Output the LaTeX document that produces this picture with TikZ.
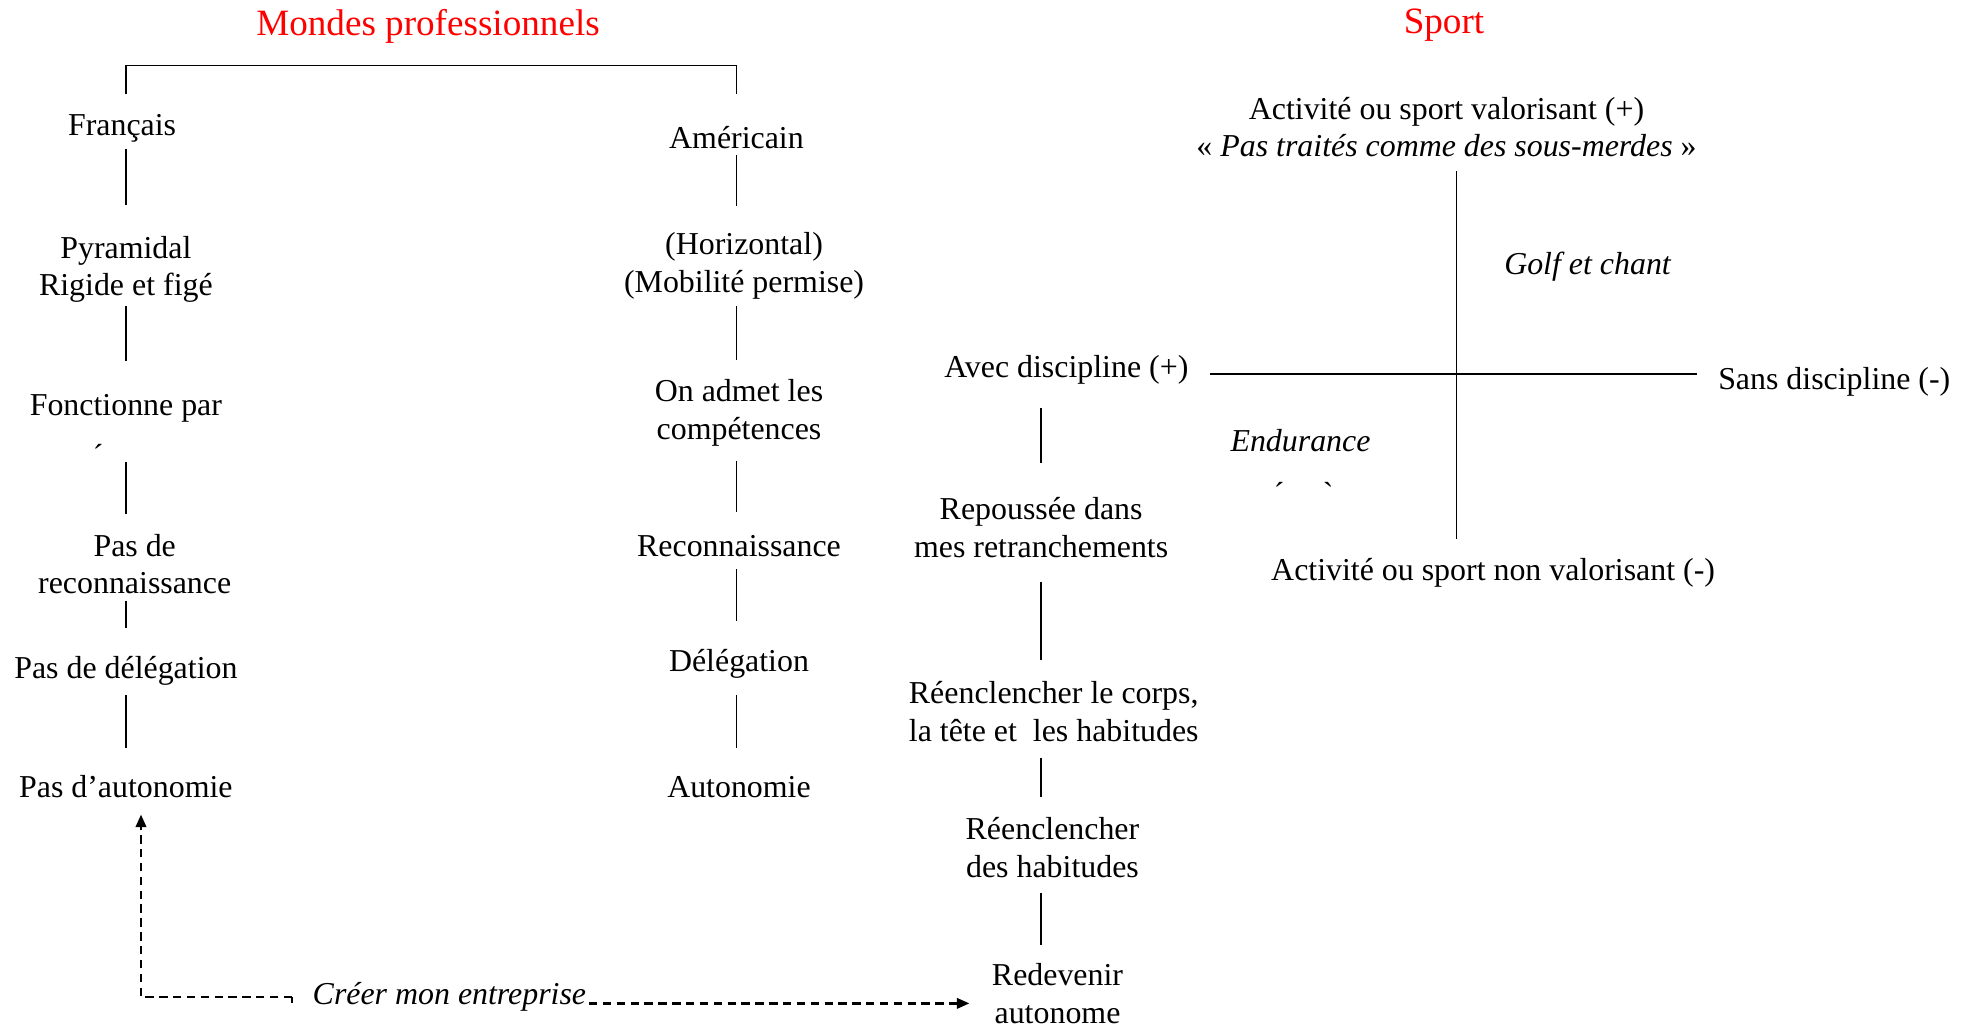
\documentclass[tikz,border=0pt]{standalone}
\usepackage{fontspec}
\setmainfont{Liberation Serif}
\usetikzlibrary{arrows.meta,calc}
\begin{document}
\begin{tikzpicture}[x=0.6pt,y=-0.6pt,
  every node/.style={font=\fontsize{15.2}{18}\selectfont, inner sep=0pt, align=center},
  ttl/.style={font=\fontsize{17.7}{21}\selectfont, text=red},
  it/.style={font=\fontsize{15.2}{18}\selectfont\itshape},
  conn/.style={line width=0.75pt},
  dashar/.style={line width=1.1pt, dash pattern=on 4pt off 2.6pt, -{Triangle[length=6pt,width=5pt]}}]
\useasboundingbox (0,0) rectangle (1568,816);
% titles
\node[ttl] (t1) at (340,21) {Mondes professionnels};
\node[ttl] (t2) at (1147,20) {Sport};
% French column
\node (fr) at (97,102) {Français};
\node (pyr) at (100,214) {Pyramidal\\Rigide et figé};
\node (fon) at (100,324) {Fonctionne par};
\node (ac1) at (78,362) {´};
\node (pdr) at (107,448) {Pas de\\reconnaissance};
\node (pdd) at (100,533) {Pas de délégation};
\node (pda) at (100,625) {Pas d’autonomie};
% American column
\node (am) at (585,109) {Américain};
\node (hor) at (591,211) {(Horizontal)\\(Mobilité permise)};
\node (oad) at (587,328) {On admet les\\compétences};
\node (rec) at (587,434) {Reconnaissance};
\node (del) at (587,527) {Délégation};
\node (aut) at (587,625) {Autonomie};
% middle column
\node (avd) at (847,294) {Avec discipline (+)};
\node (rep) at (827,419) {Repoussée dans\\mes retranchements};
\node (ree) at (837,565) {Réenclencher le corps,\\la tête et\ \ les habitudes};
\node (reh) at (836,673) {Réenclencher\\des habitudes};
\node (red) at (840,789) {Redevenir\\autonome};
\node[it] (cre) at (357,792) {Créer mon entreprise};
% quadrant
\node (avp) at (1149,101) {Activité ou sport valorisant (+)\\« \textit{Pas traités comme des sous-merdes} »};
\node (sd) at (1457,303) {Sans discipline (-)};
\node (nv) at (1186,455) {Activité ou sport non valorisant (-)};
\node[it] (golf) at (1261,212) {Golf et chant};
\node[it] (endu) at (1033,350) {Endurance};
\node (m1) at (1016,392) {´};
\node (m2) at (1055,392) {\textasciigrave};
% bracket
\draw[conn] ($(fr)+(3,-27)$) -- ($(fr)+(3,-50)$) -| ($(am)+(0,-34)$);
% French connectors
\draw[conn] ($(fr)+(3,16)$) -- ($(pyr)+(0,-51)$);
\draw[conn] ($(pyr)+(0,29)$) -- ($(fon)+(0,-37)$);
\draw[conn] ($(fon)+(0,43)$) -- ($(pdr)+(-7,-40)$);
\draw[conn] ($(pdr)+(-7,29)$) -- ($(pdd)+(0,-34)$);
\draw[conn] ($(pdd)+(0,19)$) -- ($(pda)+(0,-31)$);
% American connectors
\draw[conn] ($(am)+(0,14)$) -- ($(hor)+(-6,-47)$);
\draw[conn] ($(hor)+(-6,32)$) -- ($(oad)+(-2,-42)$);
\draw[conn] ($(oad)+(-2,38)$) -- ($(rec)+(-2,-27)$);
\draw[conn] ($(rec)+(-2,18)$) -- ($(del)+(-2,-34)$);
\draw[conn] ($(del)+(-2,25)$) -- ($(aut)+(-2,-31)$);
% middle connectors
\draw[conn] ($(avd)+(-20,30)$) -- ($(rep)+(0,-51)$);
\draw[conn] ($(rep)+(0,43)$) -- ($(ree)+(-10,-41)$);
\draw[conn] ($(ree)+(-10,37)$) -- ($(reh)+(-9,-40)$);
\draw[conn] ($(reh)+(-9,36)$) -- ($(red)+(-13,-38)$);
% quadrant axes
\draw[conn] ($(avp)+(8,35)$) -- ($(nv)+(-29,-27)$);
\draw[conn] ($(avd)+(114,3)$) -- ($(sd)+(-109,-6)$);
% dashed arrows
\draw[dashar] ($(cre.west)+(-16,0)$) -| ($(pda)+(12,22)$);
\draw[line width=1.1pt] ($(cre.west)+(-16,0)$) -- ($(cre.west)+(-16,5)$);
\draw[dashar] ($(cre.east)+(2,5)$) -- ($(red)+(-70,8)$);
\end{tikzpicture}
\end{document}
